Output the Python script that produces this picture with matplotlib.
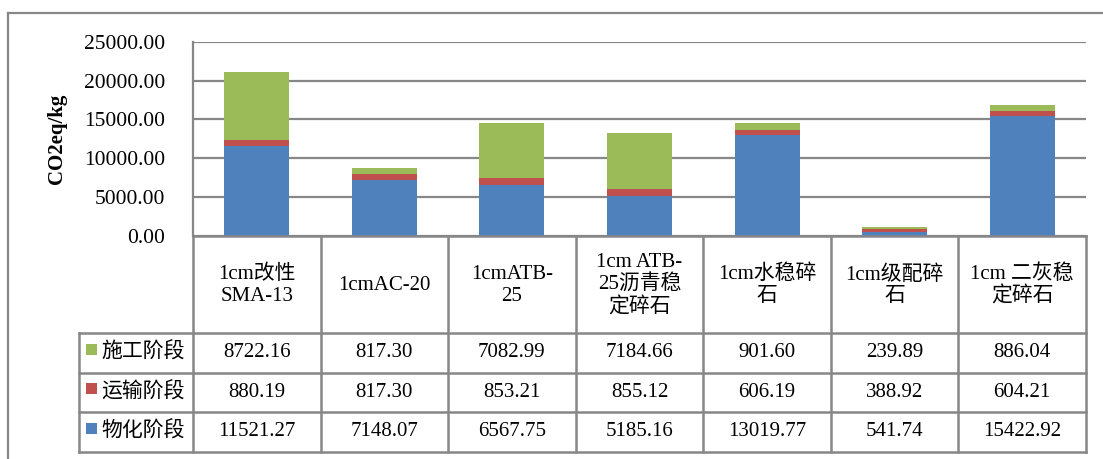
import matplotlib
matplotlib.use("Agg")
import matplotlib.pyplot as plt
import numpy as np

plt.rcParams['font.family'] = ['Liberation Serif', 'Noto Sans CJK SC']

categories = ["1cm改性\nSMA-13", "1cmAC-20", "1cmATB-\n25", "1cm ATB-\n25沥青稳\n定碎石",
              "1cm水稳碎\n石", "1cm级配碎\n石", "1cm 二灰稳\n定碎石"]
series_names = ["施工阶段", "运输阶段", "物化阶段"]
construction = [8722.16, 817.30, 7082.99, 7184.66, 901.60, 239.89, 886.04]
transport = [880.19, 817.30, 853.21, 855.12, 606.19, 388.92, 604.21]
materials = [11521.27, 7148.07, 6567.75, 5185.16, 13019.77, 541.74, 15422.92]
yticks = [0, 5000, 10000, 15000, 20000, 25000]

colors = {"施工阶段": "#9BBB59", "运输阶段": "#C0504D", "物化阶段": "#4F81BD"}
grid_c = "#878787"

W, H = 1103, 459
fig = plt.figure(figsize=(W / 100, H / 100), dpi=100)

# plot area in pixels
x0, x1 = 193, 1086
y_top, y_bot = 41.7, 236
ax = fig.add_axes([x0 / W, 1 - y_bot / H, (x1 - x0) / W, (y_bot - y_top) / H])

n = len(categories)
x = np.arange(n)
mat = np.array(materials)
tra = np.array(transport)
con = np.array(construction)
ax.bar(x, mat, width=0.51, color=colors["物化阶段"], linewidth=0, zorder=3)
ax.bar(x, tra, width=0.51, bottom=mat, color=colors["运输阶段"], linewidth=0, zorder=3)
ax.bar(x, con, width=0.51, bottom=mat + tra, color=colors["施工阶段"], linewidth=0, zorder=3)

ax.set_xlim(-0.5, n - 0.5)
ax.set_ylim(0, 25000)
ax.set_yticks(yticks)
ax.set_yticklabels([f"{v:.2f}" for v in yticks], fontsize=15.5)
ax.tick_params(axis='y', length=0, pad=20)
ax.set_xticks([])
ax.grid(axis='y', color=grid_c, linewidth=1.6, zorder=0)
for s in ["top", "right", "bottom"]:
    ax.spines[s].set_visible(False)
ax.spines["left"].set_color(grid_c)
ax.spines["left"].set_linewidth(1.6)
ax.set_ylabel("CO2eq/kg", fontsize=15, fontweight="bold")
ax.yaxis.set_label_coords((67 - x0) / (x1 - x0), 0.5)

# overlay in pixel coordinates for the data table and frame
ov = fig.add_axes([0, 0, 1, 1], facecolor="none")
ov.set_xlim(0, W)
ov.set_ylim(H, 0)
ov.axis("off")

lw = 1.8
# outer chart frame
ov.plot([8, 8], [12.5, H], color=grid_c, lw=1.6)
ov.plot([8, W], [12.5, 12.5], color=grid_c, lw=1.6)

col_w = (x1 - x0) / n
cols = [x0 + i * col_w for i in range(n + 1)]
rows = [236, 333, 372.5, 412, 451.5]
legend_left = 79

# horizontal lines
ov.plot([x0, x1], [rows[0], rows[0]], color=grid_c, lw=lw)
for r in rows[1:]:
    ov.plot([legend_left, x1], [r, r], color=grid_c, lw=lw)
# vertical lines
for c in cols:
    ov.plot([c, c], [rows[0], rows[-1]], color=grid_c, lw=lw)
ov.plot([legend_left, legend_left], [rows[1], rows[-1]], color=grid_c, lw=lw)

# header labels
for i, cat in enumerate(categories):
    ov.text((cols[i] + cols[i + 1]) / 2, (rows[0] + rows[1]) / 2 + 1, cat,
            ha="center", va="center", fontsize=15, linespacing=1.2)

# data rows
table_data = [construction, transport, materials]
for r, (name, vals) in enumerate(zip(series_names, table_data)):
    yc = (rows[r + 1] + rows[r + 2]) / 2
    ov.add_patch(plt.Rectangle((86, yc - 9), 11, 11, color=colors[name], lw=0))
    ov.text(101, yc, name, ha="left", va="center", fontsize=15)
    for i, v in enumerate(vals):
        ov.text((cols[i] + cols[i + 1]) / 2, yc, f"{v:.2f}",
                ha="center", va="center", fontsize=15)

fig.savefig("out.png", dpi=100)
